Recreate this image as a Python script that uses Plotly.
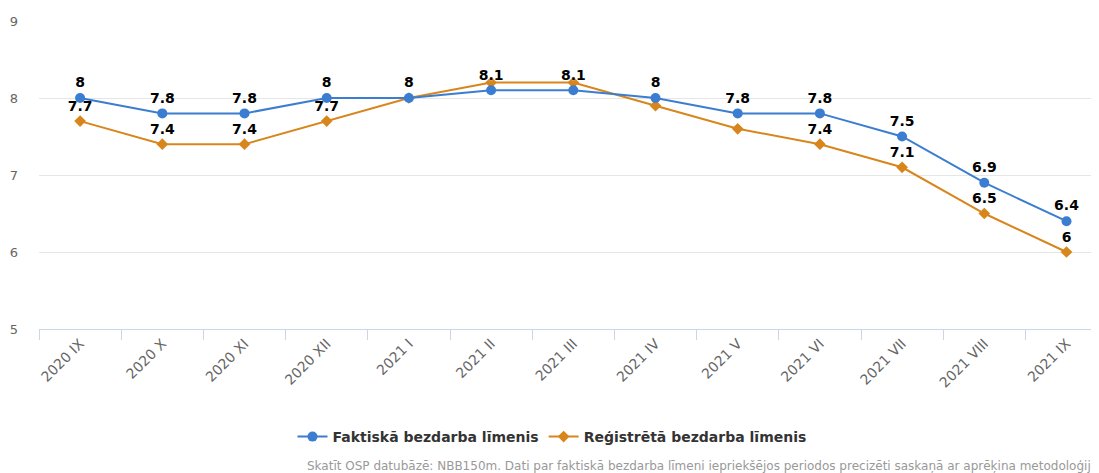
import plotly.graph_objects as go

categories = ["2020 IX", "2020 X", "2020 XI", "2020 XII", "2021 I", "2021 II", "2021 III",
              "2021 IV", "2021 V", "2021 VI", "2021 VII", "2021 VIII", "2021 IX"]
faktiskais = [8.0, 7.8, 7.8, 8.0, 8.0, 8.1, 8.1, 8.0, 7.8, 7.8, 7.5, 6.9, 6.4]
registretais = [7.7, 7.4, 7.4, 7.7, 8.0, 8.2, 8.2, 7.9, 7.6, 7.4, 7.1, 6.5, 6.0]
reg_label_shown = [True, True, True, True, False, False, False, False, False, True, True, True, True]

name_fakt = "Faktiskā bezdarba līmenis"
name_reg = "Reģistrētā bezdarba līmenis"
credits = ("Skatīt OSP datubāzē: NBB150m. Dati par faktiskā bezdarba līmeni iepriekšējos periodos "
           "precizēti saskaņā ar aprēķina metodoloģiju")

blue = "#3b7dd0"
orange = "#d8861c"
font_family = "DejaVu Sans"

def fmt(v):
    return f"{v:g}"

# page body has an 8px margin; figure is positioned at (8, 8) on screen
OFF = 8
W, H = 1099, 465
ml, mt = 39 - OFF, 21 - OFF
plot_bottom = 329 - OFF
mb = H - plot_bottom
plot_w = W - ml
plot_h = H - mt - mb
unit = 82.2
x_end = -0.5 + plot_w / unit

label_font = dict(family=font_family, size=14, color="#000000", weight="bold",
                  shadow="0px 0px 2px #ffffff")

fig = go.Figure()
fig.add_trace(go.Scatter(
    x=categories, y=registretais, name=name_reg, mode="lines+markers+text",
    line=dict(color=orange, width=2),
    marker=dict(symbol="diamond", size=9, color=orange),
    text=[fmt(v) if s else "" for v, s in zip(registretais, reg_label_shown)],
    textposition="top center", textfont=label_font,
    cliponaxis=False, hoverinfo="x+y+name",
))
fig.add_trace(go.Scatter(
    x=categories, y=faktiskais, name=name_fakt, mode="lines+markers+text",
    line=dict(color=blue, width=2),
    marker=dict(symbol="circle", size=10, color=blue),
    text=[fmt(v) for v in faktiskais],
    textposition="top center", textfont=label_font,
    cliponaxis=False, hoverinfo="x+y+name",
))

fig.update_layout(
    width=W, height=H,
    margin=dict(l=ml, r=0, t=mt, b=mb),
    paper_bgcolor="white", plot_bgcolor="white",
    font=dict(family=font_family, color="#666666"),
    showlegend=True,
    legend=dict(
        orientation="h", xref="container", yref="container",
        x=(552 - OFF) / W, y=1 - (437 - OFF) / H, xanchor="center", yanchor="middle",
        font=dict(family=font_family, size=14, color="#333333", weight="bold"),
        traceorder="reversed", itemwidth=30,
    ),
    xaxis=dict(
        type="category", range=[-0.5, x_end],
        showgrid=False, showline=True, linecolor="#ccd6eb", linewidth=1,
        ticks="outside", tickson="boundaries", ticklen=10, tickcolor="#ccd6eb",
        tickangle=-45, tickfont=dict(family=font_family, size=14, color="#666666"),
        zeroline=False,
    ),
    yaxis=dict(
        range=[5, 9], dtick=1, showgrid=True, gridcolor="#e6e6e6", gridwidth=1,
        zeroline=False, showline=False, ticks="",
        tickfont=dict(family=font_family, size=13, color="#666666"),
        ticklabelstandoff=20,
    ),
    annotations=[dict(
        text=credits, xref="paper", yref="paper",
        x=(305 - OFF - ml) / plot_w, y=-((466 - OFF) - plot_bottom) / plot_h,
        xanchor="left", yanchor="middle", showarrow=False,
        font=dict(family=font_family, size=12, color="#999999"),
    )],
)

fig.write_html("out.html")
